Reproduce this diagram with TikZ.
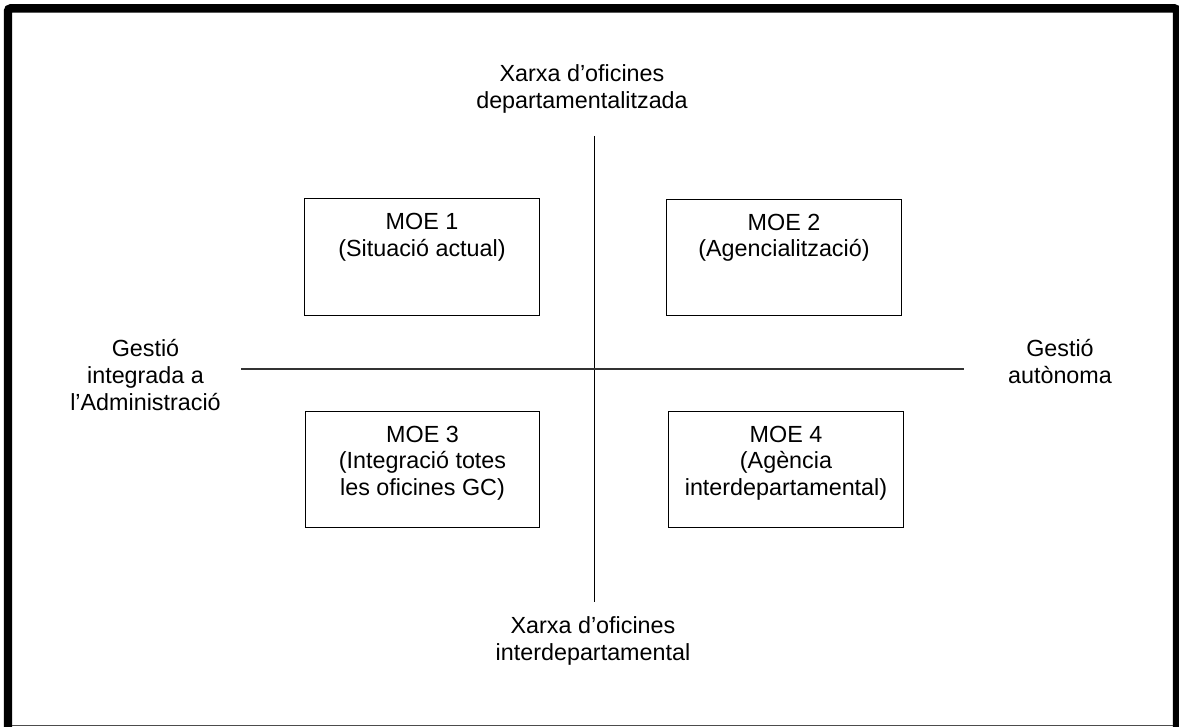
\documentclass[tikz,border=0pt]{standalone}
\usepackage{fontspec}
\setmainfont{Liberation Sans}
\begin{document}
\begin{tikzpicture}[x=0.75pt,y=-0.75pt,
  txt/.style={font=\fontsize{17.5}{20}\selectfont, align=center, inner sep=0pt, anchor=north},
  moebox/.style={draw, line width=0.75pt, inner sep=0pt, minimum width=176pt, minimum height=87.4pt},
  axis/.style={line width=0.95pt}]
\useasboundingbox (0,0) rectangle (1179,727);
\begin{scope}
\clip (0,0) rectangle (1179,727);
\draw[line width=6.3pt, rounded corners=2pt] (8,8.4) rectangle (1177,760);
\draw[line width=0.9pt, black!70] (12,725.6) -- (1173,725.6);
\end{scope}
% axes
\coordinate (vt) at (594.5,136);
\coordinate (vb) at (594.5,602);
\coordinate (hl) at (241,369);
\coordinate (hr) at (964,369);
\draw[axis] (vt) -- (vb);
\draw[axis, black!80] (hl) -- (hr);
% boxes
\node[moebox] (b1) at (422,257) {};
\node[moebox] (b2) at (784,257.5) {};
\node[moebox] (b3) at (422.5,469.5) {};
\node[moebox] (b4) at (786,469.5) {};
\node[txt] (t1) at ([yshift=-11.2pt]b1.north) {MOE 1\\(Situació actual)};
\node[txt] (t2) at ([yshift=-11.2pt]b2.north) {MOE 2\\(Agencialització)};
\node[txt] (t3) at ([yshift=-11.2pt]b3.north) {MOE 3\\(Integració totes\\les oficines GC)};
\node[txt] (t4) at ([yshift=-11.2pt]b4.north) {MOE 4\\(Agència\\interdepartamental)};
% axis labels
\node[txt] (top) at (582,64.5) {Xarxa d’oficines\\departamentalitzada};
\node[txt] (bot) at (593,616.5) {Xarxa d’oficines\\interdepartamental};
\node[txt] (lft) at (145.5,339.5) {Gestió\\integrada a\\l’Administració};
\node[txt] (rgt) at (1060,339.5) {Gestió\\autònoma};
\end{tikzpicture}
\end{document}
